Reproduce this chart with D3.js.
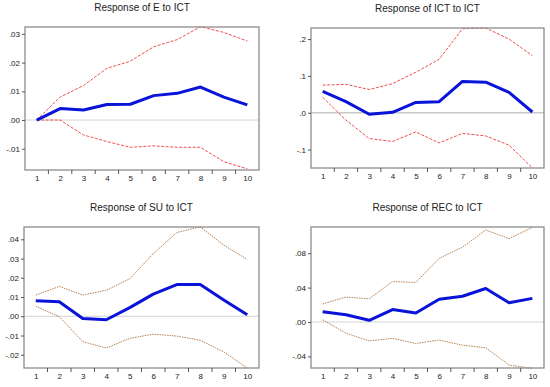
<!DOCTYPE html>
<html>
<head>
<meta charset="utf-8">
<script src="https://d3js.org/d3.v7.min.js"></script>
<style>
	body { margin: 0; background: #fff; }
	svg text { font-family: "Liberation Sans", Arial, sans-serif; fill: #222; }
	.title { font-size: 10px; }
	.tick text { font-size: 8px; }
</style>
</head>
<body>
<div id="container"></div>
<script>

var periods = [1, 2, 3, 4, 5, 6, 7, 8, 9, 10];

// Response of E to ICT
var eResp  = [0, 0.0040, 0.0035, 0.0054, 0.0055, 0.0085, 0.0093, 0.0115, 0.0080, 0.0053];
var eUpper = [0, 0.0080, 0.0120, 0.0180, 0.0205, 0.0255, 0.0280, 0.0325, 0.0305, 0.0275];
var eLower = [0, 0.0000, -0.0052, -0.0075, -0.0095, -0.0090, -0.0095, -0.0095, -0.0145, -0.0170];
var eTicks = [-0.01, 0, 0.01, 0.02, 0.03];

// Response of ICT to ICT
var ictResp  = [0.058, 0.030, -0.004, 0.001, 0.028, 0.030, 0.085, 0.083, 0.055, 0.002];
var ictUpper = [0.075, 0.077, 0.063, 0.079, 0.110, 0.145, 0.228, 0.230, 0.200, 0.155];
var ictLower = [0.042, -0.020, -0.070, -0.078, -0.052, -0.082, -0.056, -0.063, -0.088, -0.150];
var ictTicks = [-0.1, 0, 0.1, 0.2];

// Response of SU to ICT
var suResp  = [0.0080, 0.0075, -0.0012, -0.0018, 0.0045, 0.0115, 0.0165, 0.0165, 0.0085, 0.0008];
var suUpper = [0.0110, 0.0155, 0.0110, 0.0135, 0.0195, 0.0325, 0.0435, 0.0465, 0.0370, 0.0295];
var suLower = [0.0052, -0.0002, -0.0132, -0.0165, -0.0115, -0.0093, -0.0103, -0.0125, -0.0185, -0.0270];
var suTicks = [-0.02, -0.01, 0, 0.01, 0.02, 0.03, 0.04];

// Response of REC to ICT
var recResp  = [0.0120, 0.0085, 0.0020, 0.0145, 0.0105, 0.0265, 0.0300, 0.0390, 0.0225, 0.0275];
var recUpper = [0.021, 0.029, 0.027, 0.047, 0.046, 0.074, 0.087, 0.107, 0.097, 0.110];
var recLower = [0.0025, -0.013, -0.022, -0.019, -0.025, -0.021, -0.027, -0.030, -0.050, -0.054];
var recTicks = [-0.04, 0, 0.04, 0.08];

var panels = [
	{ title: "Response of E to ICT", resp: eResp, up: eUpper, lo: eLower, ticks: eTicks, dec: 2,
	  x0: 25, x1: 259, y0: 27, y1: 170, dom: [-0.0174, 0.0324], band: "#f03a3a", dash: "3,1.5", zw: 0.8 },
	{ title: "Response of ICT to ICT", resp: ictResp, up: ictUpper, lo: ictLower, ticks: ictTicks, dec: 1,
	  x0: 311, x1: 544, y0: 28, y1: 168, dom: [-0.15, 0.23], band: "#f03a3a", dash: "3,1.5", zw: 1.5 },
	{ title: "Response of SU to ICT", resp: suResp, up: suUpper, lo: suLower, ticks: suTicks, dec: 2,
	  x0: 24, x1: 259, y0: 227, y1: 368, dom: [-0.0269, 0.0464], band: "#b0703c", dash: "1.5,1", zw: 0.8 },
	{ title: "Response of REC to ICT", resp: recResp, up: recUpper, lo: recLower, ticks: recTicks, dec: 2,
	  x0: 311, x1: 544, y0: 227, y1: 368, dom: [-0.0535, 0.1105], band: "#b0703c", dash: "1.5,1", zw: 0.8 }
];

var svg = d3.select("#container").append("svg")
	.attr("width", 550)
	.attr("height", 387);

panels.forEach(function(p) {
	var x = d3.scaleLinear().domain([0.5, 10.5]).range([p.x0, p.x1]);
	var y = d3.scaleLinear().domain(p.dom).range([p.y1, p.y0]);
	var g = svg.append("g");

	// EViews style labels: ".03", "-.01"
	var fmt = function(v) {
		var s = Math.abs(v).toFixed(p.dec).replace(/^0\./, ".");
		return (v < 0 ? "-" : "") + s;
	};

	// zero line
	g.append("line")
		.attr("x1", p.x0).attr("x2", p.x1)
		.attr("y1", y(0)).attr("y2", y(0))
		.attr("stroke", "#c8c8c8")
		.attr("stroke-width", p.zw);

	var line = d3.line()
		.x(function(d, i) { return x(periods[i]); })
		.y(function(d) { return y(d); });

	[p.up, p.lo].forEach(function(s) {
		g.append("path")
			.datum(s)
			.attr("d", line)
			.attr("fill", "none")
			.attr("stroke", p.band)
			.attr("stroke-width", 0.9)
			.attr("stroke-dasharray", p.dash);
	});

	g.append("path")
		.datum(p.resp)
		.attr("d", line)
		.attr("fill", "none")
		.attr("stroke", "#0a14d8")
		.attr("stroke-width", 3)
		.attr("stroke-linejoin", "round");

	// box
	g.append("rect")
		.attr("x", p.x0).attr("y", p.y0)
		.attr("width", p.x1 - p.x0).attr("height", p.y1 - p.y0)
		.attr("fill", "none")
		.attr("stroke", "#8c8c8c")
		.attr("stroke-width", 1.3);

	// left axis
	var ya = d3.axisLeft(y).tickValues(p.ticks).tickSize(3).tickPadding(2).tickFormat(fmt);
	var yg = g.append("g").attr("transform", "translate(" + p.x0 + ",0)").call(ya);
	yg.select(".domain").remove();
	yg.selectAll(".tick line").attr("stroke", "#555");

	// bottom axis: labels at periods, ticks between
	var xa = d3.axisBottom(x).tickValues(periods).tickSize(0).tickPadding(5).tickFormat(d3.format("d"));
	var xg = g.append("g").attr("transform", "translate(0," + p.y1 + ")").call(xa);
	xg.select(".domain").remove();
	xg.selectAll(".minor").data(d3.range(1.5, 10.5, 1)).enter().append("line")
		.attr("x1", function(d) { return x(d); }).attr("x2", function(d) { return x(d); })
		.attr("y1", 0).attr("y2", 4)
		.attr("stroke", "#555");

	g.append("text")
		.attr("class", "title")
		.attr("x", (p.x0 + p.x1) / 2)
		.attr("y", p.y0 - 16)
		.attr("text-anchor", "middle")
		.text(p.title);
});

</script>
</body>
</html>
